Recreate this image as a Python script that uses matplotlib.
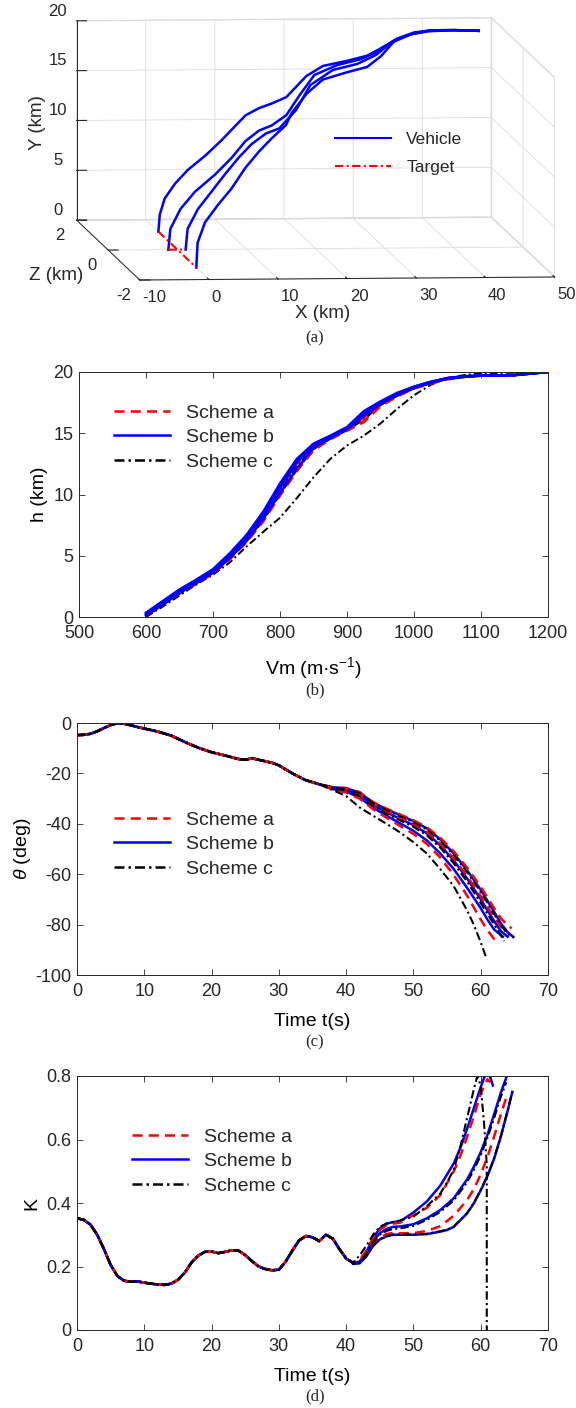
import numpy as np
import matplotlib
matplotlib.use('Agg')
import matplotlib.pyplot as plt
from matplotlib.lines import Line2D
from matplotlib.ticker import FormatStrFormatter

plt.rcParams['font.family'] = ['Liberation Sans', 'DejaVu Sans']
plt.rcParams['mathtext.fontset'] = 'custom'
plt.rcParams['mathtext.rm'] = 'Liberation Sans'
plt.rcParams['mathtext.it'] = 'Liberation Sans:italic'
plt.rcParams['axes.unicode_minus'] = False
plt.rcParams['text.color'] = '#262626'
plt.rcParams['axes.edgecolor'] = '#262626'
plt.rcParams['xtick.color'] = '#262626'
plt.rcParams['ytick.color'] = '#262626'
plt.rcParams['grid.color'] = '#d9d9d9'
plt.rcParams['grid.linewidth'] = 0.6

# ---------------- (a) 3D trajectories: X, Y(altitude), Z in km ----------------
trajA_x = [0.0, 0.2, 0.9, 2.4, 4.3, 6.8, 9.1, 11.2, 12.6, 14.5, 16.5, 18.5, 21.4, 23.8, 27.3, 30.2, 32.1, 34.6, 37.0, 39.5, 42.8, 46.8, 50.0]
trajA_y = [0.0, 1.7, 3.3, 4.8, 6.2, 7.6, 9.1, 10.6, 11.6, 12.3, 12.8, 13.4, 15.5, 16.5, 17.0, 17.5, 18.2, 19.2, 19.8, 20.0, 20.0, 19.9, 20.0]
trajA_z = [1.2, 1.2, 1.2, 1.2, 1.2, 1.2, 1.2, 1.2, 1.2, 1.2, 1.2, 1.2, 1.2, 1.2, 1.2, 1.2, 1.2, 1.2, 1.2, 1.2, 1.2, 1.2, 1.2]

trajB_x = [-1.3, -0.9, 0.8, 3.1, 6.3, 8.9, 11.1, 13.3, 15.3, 17.6, 19.7, 22.1, 25.5, 29.0, 31.7, 34.3, 36.8, 39.5, 42.8, 46.8, 50.0]
trajB_y = [0.0, 2.0, 3.85, 5.4, 7.0, 8.5, 10.0, 10.9, 11.3, 12.2, 14.0, 15.9, 16.8, 17.3, 18.0, 19.1, 19.7, 20.0, 20.0, 19.9, 20.0]
trajB_z = [0.0, 0.05, 0.15, 0.25, 0.35, 0.45, 0.55, 0.65, 0.72, 0.8, 0.9, 1.0, 1.05, 1.1, 1.15, 1.2, 1.2, 1.2, 1.2, 1.2, 1.2]

trajC_x = [1.2, 1.6, 3.3, 5.5, 7.7, 9.9, 12.0, 14.3, 16.4, 19.0, 21.3, 24.8, 28.4, 31.2, 33.8, 36.5, 39.5, 42.8, 46.8, 50.0]
trajC_y = [0.0, 2.0, 3.8, 5.4, 7.0, 8.5, 9.7, 10.6, 11.0, 12.7, 15.05, 16.4, 16.9, 17.7, 19.0, 19.6, 20.0, 20.0, 19.9, 20.0]
trajC_z = [0.0, 0.05, 0.15, 0.25, 0.35, 0.45, 0.55, 0.65, 0.72, 0.8, 0.9, 1.0, 1.05, 1.1, 1.15, 1.2, 1.2, 1.2, 1.2, 1.2]

trajD_x = [0.0, 0.3, 1.6, 3.8, 6.1, 8.6, 11.0, 13.2, 15.7, 16.8, 19.4, 22.2, 26.1, 29.4, 31.6, 33.7, 36.4, 39.0, 42.8, 46.8, 50.0]
trajD_y = [0.0, 2.4, 4.3, 5.8, 7.2, 9.0, 10.3, 11.4, 12.4, 13.5, 15.1, 16.2, 16.6, 16.9, 17.8, 19.1, 19.7, 19.9, 20.0, 19.9, 20.0]
trajD_z = [-1.2, -1.15, -1.05, -0.9, -0.75, -0.55, -0.35, -0.2, 0.0, 0.1, 0.3, 0.5, 0.7, 0.85, 0.95, 1.05, 1.15, 1.2, 1.2, 1.2, 1.2]

target1_x = [0.0, 0.0]
target1_z = [1.2, -1.2]
target2_x = [-1.3, 1.2]
target2_z = [0.0, 0.0]

# ---------------- (b) altitude vs velocity ----------------
vm_b = [600, 625, 650, 675, 700, 725, 750, 775, 800, 825, 850, 875, 900, 925, 950, 975, 1000, 1025, 1050, 1075, 1100, 1150, 1200]
h_a1 = [0.2, 1.1, 2.05, 2.85, 3.7, 4.9, 6.3, 8.1, 10.2, 12.0, 13.7, 14.6, 15.3, 16.0, 17.3, 18.1, 18.7, 19.1, 19.45, 19.6, 19.7, 19.75, 20.0]
h_a2 = [0.25, 1.2, 2.15, 2.95, 3.8, 5.05, 6.5, 8.35, 10.55, 12.5, 13.9, 14.65, 15.4, 16.3, 17.45, 18.2, 18.75, 19.15, 19.5, 19.65, 19.7, 19.75, 20.0]
h_a3 = [0.1, 1.0, 1.9, 2.7, 3.55, 4.7, 6.1, 7.8, 9.9, 11.9, 13.6, 14.5, 15.2, 15.9, 17.2, 18.0, 18.65, 19.05, 19.4, 19.6, 19.7, 19.75, 20.0]
h_b1 = [0.35, 1.3, 2.25, 3.05, 3.9, 5.2, 6.7, 8.6, 10.9, 12.9, 14.15, 14.8, 15.5, 16.8, 17.6, 18.3, 18.8, 19.2, 19.5, 19.65, 19.7, 19.75, 20.0]
h_b2 = [0.2, 1.15, 2.1, 2.9, 3.75, 5.0, 6.45, 8.3, 10.5, 12.6, 14.0, 14.7, 15.4, 16.6, 17.5, 18.2, 18.75, 19.15, 19.5, 19.65, 19.7, 19.75, 20.0]
h_b3 = [0.1, 1.0, 1.95, 2.75, 3.6, 4.8, 6.2, 8.0, 10.1, 12.1, 13.8, 14.6, 15.3, 16.4, 17.4, 18.1, 18.7, 19.1, 19.45, 19.6, 19.7, 19.75, 20.0]
h_b4 = [0.3, 1.25, 2.2, 3.0, 3.85, 5.1, 6.6, 8.45, 10.7, 12.7, 14.1, 14.75, 15.45, 16.7, 17.55, 18.25, 18.8, 19.2, 19.5, 19.65, 19.7, 19.75, 20.0]
h_c1 = [0.15, 1.05, 2.0, 2.8, 3.65, 4.85, 6.25, 8.05, 10.15, 12.2, 13.75, 14.6, 15.3, 16.2, 17.35, 18.1, 18.7, 19.1, 19.45, 19.6, 19.7, 19.75, 20.0]
h_c2 = [0.1, 0.95, 1.9, 2.7, 3.55, 4.75, 6.15, 7.9, 10.0, 12.0, 13.7, 14.55, 15.25, 16.1, 17.3, 18.05, 18.65, 19.1, 19.45, 19.6, 19.7, 19.75, 20.0]
h_c3 = [0.2, 1.1, 2.05, 2.85, 3.7, 4.9, 6.35, 8.2, 10.3, 12.3, 13.85, 14.6, 15.35, 16.3, 17.4, 18.15, 18.7, 19.1, 19.45, 19.6, 19.7, 19.75, 20.0]
h_c4 = [0.0, 0.85, 1.75, 2.65, 3.45, 4.45, 5.75, 6.95, 8.1, 9.7, 11.4, 12.9, 14.0, 14.8, 15.8, 17.0, 18.1, 18.95, 19.5, 19.75, 19.9, 19.95, 20.0]

# ---------------- (c) flight path angle vs time ----------------
t_c0 = [0, 1, 2, 3, 4, 5, 6, 7, 8, 9, 10, 12, 14, 16, 18, 20, 22, 24, 25, 26, 28, 29, 30, 32, 34, 36]
th_c0 = [-4.8, -4.7, -4.3, -3.3, -2.0, -0.8, -0.1, -0.3, -0.9, -1.6, -2.2, -3.4, -5.0, -7.5, -9.8, -11.6, -12.9, -14.3, -14.6, -14.0, -15.2, -15.8, -16.8, -20.0, -22.7, -24.3]
t_ca1 = [38, 40, 42, 44, 46, 48, 50, 52, 54, 56, 58, 60, 62, 63, 64, 64.6]
th_ca1 = [-25.5, -25.8, -27.4, -31.4, -34.0, -36.3, -38.6, -41.4, -45.6, -51.0, -57.5, -65.0, -73.5, -77.5, -80.3, -81.5]
t_ca2 = [38, 40, 42, 44, 46, 48, 50, 52, 54, 56, 58, 60, 61, 62, 62.5]
th_ca2 = [-26.4, -27.6, -30.0, -34.2, -37.6, -40.8, -44.0, -48.0, -53.4, -60.4, -68.6, -78.0, -82.2, -85.8, -87.4]
t_ca3 = [38, 40, 42, 44, 46, 48, 50, 52, 54, 56, 58, 60, 62, 63, 64]
th_ca3 = [-25.7, -26.3, -28.3, -32.2, -35.1, -37.6, -40.0, -43.2, -47.9, -53.8, -60.8, -68.8, -77.2, -80.8, -83.2]
t_cb1 = [38, 40, 42, 44, 46, 48, 50, 52, 54, 56, 58, 60, 62, 63, 64, 64.8]
th_cb1 = [-25.5, -25.9, -27.6, -31.6, -34.2, -36.6, -38.9, -41.8, -46.2, -51.8, -58.5, -66.2, -75.0, -79.5, -83.0, -84.8]
t_cb2 = [38, 40, 42, 44, 46, 48, 50, 52, 54, 56, 58, 60, 62, 63, 64]
th_cb2 = [-25.8, -26.5, -28.6, -32.5, -35.5, -38.0, -40.5, -43.8, -48.6, -54.6, -61.8, -70.0, -78.6, -82.6, -84.8]
t_cb3 = [38, 40, 42, 44, 46, 48, 50, 52, 54, 56, 58, 60, 61, 62, 63.3]
th_cb3 = [-26.2, -27.2, -29.6, -33.6, -36.8, -39.8, -42.8, -46.6, -51.8, -58.0, -65.5, -73.5, -78.0, -82.0, -84.8]
t_cc1 = [38, 40, 42, 44, 46, 48, 50, 52, 54, 56, 58, 60, 62, 63, 64, 65]
th_cc1 = [-25.6, -26.1, -27.8, -31.8, -34.5, -37.0, -39.3, -42.3, -46.8, -52.5, -59.2, -67.0, -75.8, -80.2, -83.8, -85.2]
t_cc2 = [38, 40, 42, 44, 46, 48, 50, 52, 54, 56, 58, 60, 62, 63, 63.5]
th_cc2 = [-26.0, -26.8, -29.0, -33.0, -36.0, -38.6, -41.2, -44.6, -49.5, -55.7, -63.0, -71.5, -80.0, -84.2, -86.5]
t_cc3 = [38, 40, 42, 44, 46, 48, 50, 52, 54, 56, 58, 59, 60, 60.8]
th_cc3 = [-26.6, -29.0, -33.5, -36.8, -40.0, -43.4, -47.3, -51.8, -58.0, -64.8, -74.5, -80.2, -87.0, -93.0]

# ---------------- (d) K vs time ----------------
t_d0 = [0, 1, 2, 3, 4, 5, 6, 7, 8, 9, 10, 11, 12, 13, 14, 15, 16, 17, 18, 19, 20, 21, 22, 23, 24, 25, 26, 27, 28, 29, 30, 31, 32, 33, 34, 35, 36, 37, 38, 39, 40, 41]
k_d0 = [0.352, 0.347, 0.332, 0.300, 0.255, 0.205, 0.170, 0.155, 0.152, 0.153, 0.149, 0.146, 0.143, 0.142, 0.146, 0.158, 0.180, 0.212, 0.234, 0.246, 0.247, 0.242, 0.246, 0.251, 0.250, 0.236, 0.217, 0.200, 0.192, 0.188, 0.190, 0.215, 0.250, 0.282, 0.296, 0.292, 0.280, 0.300, 0.288, 0.255, 0.225, 0.212]
t_da1 = [41, 42, 43, 44, 45, 46, 47, 48, 50, 52, 54, 56, 57, 58, 59, 60, 61, 61.4]
k_da1 = [0.212, 0.220, 0.250, 0.290, 0.315, 0.330, 0.335, 0.338, 0.362, 0.385, 0.425, 0.500, 0.550, 0.610, 0.675, 0.745, 0.790, 0.780]
t_da2 = [41, 42, 43, 44, 45, 46, 47, 48, 50, 52, 54, 56, 58, 59, 60, 61, 62, 63, 64]
k_da2 = [0.212, 0.216, 0.238, 0.272, 0.292, 0.302, 0.306, 0.305, 0.305, 0.312, 0.327, 0.360, 0.410, 0.445, 0.490, 0.545, 0.610, 0.680, 0.745]
t_db1 = [41, 42, 43, 44, 45, 46, 47, 48, 50, 52, 54, 56, 57, 58, 59, 60, 60.6, 61.3, 61.8]
k_db1 = [0.212, 0.215, 0.245, 0.290, 0.320, 0.335, 0.340, 0.342, 0.370, 0.405, 0.455, 0.525, 0.575, 0.635, 0.700, 0.765, 0.800, 0.805, 0.770]
t_db2 = [41, 42, 43, 44, 45, 46, 47, 48, 50, 52, 54, 56, 58, 59, 60, 61, 62, 63, 63.8]
k_db2 = [0.210, 0.212, 0.238, 0.280, 0.305, 0.318, 0.325, 0.326, 0.333, 0.352, 0.378, 0.415, 0.475, 0.515, 0.560, 0.615, 0.680, 0.748, 0.795]
t_db3 = [41, 42, 43, 44, 45, 46, 47, 48, 50, 52, 54, 55, 56, 58, 59, 60, 61, 62, 63, 64, 64.7]
k_db3 = [0.208, 0.210, 0.232, 0.265, 0.285, 0.295, 0.300, 0.300, 0.300, 0.302, 0.310, 0.315, 0.325, 0.368, 0.400, 0.440, 0.485, 0.540, 0.610, 0.690, 0.750]
t_dc1 = [41, 42, 43, 44, 45, 46, 48, 50, 52, 54, 55, 56, 57, 58, 59, 59.5, 60, 60.5, 60.9, 60.9]
k_dc1 = [0.212, 0.235, 0.265, 0.300, 0.325, 0.335, 0.345, 0.357, 0.390, 0.430, 0.465, 0.505, 0.580, 0.670, 0.760, 0.800, 0.770, 0.650, 0.520, 0.0]
t_dc2 = [41, 42, 43, 44, 45, 46, 47, 48, 50, 52, 54, 56, 58, 59, 60, 61, 62, 63, 63.8]
k_dc2 = [0.212, 0.214, 0.240, 0.278, 0.300, 0.312, 0.318, 0.320, 0.328, 0.347, 0.372, 0.408, 0.466, 0.505, 0.550, 0.605, 0.668, 0.735, 0.780]
t_dc3 = [41, 42, 43, 44, 45, 46, 47, 48, 50, 52, 54, 55, 56, 58, 59, 60, 61, 62, 63, 64, 64.7]
k_dc3 = [0.209, 0.211, 0.233, 0.266, 0.286, 0.296, 0.301, 0.301, 0.301, 0.303, 0.311, 0.316, 0.326, 0.369, 0.401, 0.441, 0.486, 0.541, 0.611, 0.691, 0.751]

RED = '#ff0000'
BLUE = '#0000ff'
BLACK = '#000000'
LS_A = (0, (4, 2.5))
LS_C = (0, (4, 1.6, 1, 1.6))
LW = 1.8
TXT = '#262626'

fig = plt.figure(figsize=(5.76, 14.08), dpi=100)


def px_rect(left, top, right, bottom):
    return [left / 576, 1 - bottom / 1408, (right - left) / 576, (bottom - top) / 1408]


def fig_xy(x, y):
    return x / 576, 1 - y / 1408


def style2d(ax):
    ax.tick_params(direction='in', top=True, right=True, length=4, width=0.6, labelsize=13)
    ax.tick_params(axis='x', pad=6)
    ax.tick_params(axis='y', pad=4)
    for s in ax.spines.values():
        s.set_linewidth(0.7)


def scheme_legend(ax, x, y):
    handles = [Line2D([], [], color=RED, lw=LW, linestyle=LS_A),
               Line2D([], [], color=BLUE, lw=LW),
               Line2D([], [], color=BLACK, lw=LW, linestyle=LS_C)]
    ax.legend(handles, ['Scheme a', 'Scheme b', 'Scheme c'], loc='upper left',
              bbox_to_anchor=fig_xy(x, y), bbox_transform=fig.transFigure,
              frameon=False, fontsize=14, handlelength=2.9, handletextpad=0.8,
              labelspacing=0.36, borderpad=0, borderaxespad=0)


# ---------------- (a) ----------------
ax3 = fig.add_axes([0.02, 0.771, 1.04, 0.24], projection='3d')
ax3.set_proj_type('ortho')
ax3.view_init(elev=4.75, azim=-95)
ax3.set_box_aspect((410, 714, 197), zoom=2.47)
for axis in (ax3.xaxis, ax3.yaxis, ax3.zaxis):
    axis.pane.set_facecolor((1, 1, 1, 0))
    axis.pane.set_edgecolor('#c8c8c8')
    axis._axinfo['grid']['color'] = '#dcdcdc'
    axis._axinfo['grid']['linewidth'] = 0.6
    axis._axinfo['tick']['inward_factor'] = 0.0
    axis._axinfo['tick']['outward_factor'] = 0.3
    axis.line.set_color('#262626')
    axis.line.set_linewidth(0.7)

for xs, ys, zs in ((trajA_x, trajA_y, trajA_z), (trajB_x, trajB_y, trajB_z),
                   (trajC_x, trajC_y, trajC_z), (trajD_x, trajD_y, trajD_z)):
    ax3.plot(xs, zs, ys, color=BLUE, lw=1.8)
ax3.plot(target1_x, target1_z, [0, 0], color=RED, lw=1.5, linestyle=LS_C)
ax3.plot(target2_x, target2_z, [0, 0], color=RED, lw=1.5, linestyle=LS_C)
ax3.set_xlim(-10, 50)
ax3.set_ylim(-2, 2)
ax3.set_zlim(0, 20)
ax3.set_xticks([-10, 0, 10, 20, 30, 40, 50])
ax3.set_yticks([-2, 0, 2])
ax3.set_zticks([0, 5, 10, 15, 20])
ax3.tick_params(labelsize=12, colors=TXT)
ax3.xaxis.set_tick_params(pad=-3)
ax3.yaxis.set_tick_params(pad=-3)
ax3.zaxis.set_tick_params(pad=-3)
for tk in ax3.xaxis.get_major_ticks():
    tk.label1.set_horizontalalignment('left')
for tk in ax3.zaxis.get_major_ticks():
    tk.label1.set_verticalalignment('bottom')
# axis titles placed where the reference has them
fig.text(*fig_xy(323, 313), 'X (km)', ha='center', va='center', fontsize=13.5)
fig.text(*fig_xy(56, 275), 'Z (km)', ha='center', va='center', fontsize=13.5)
fig.text(*fig_xy(37, 123), 'Y (km)', ha='center', va='center', fontsize=13.5, rotation=90)
h3 = [Line2D([], [], color=BLUE, lw=1.5), Line2D([], [], color=RED, lw=1.5, linestyle=LS_C)]
ax3.legend(h3, ['Vehicle', 'Target'], loc='upper left', bbox_to_anchor=fig_xy(335, 132),
           bbox_transform=fig.transFigure, frameon=False, fontsize=12.5, handlelength=3.2,
           handletextpad=0.9, labelspacing=0.75, borderpad=0, borderaxespad=0)
fig.text(*fig_xy(315, 338), '(a)', ha='center', va='center', family='Liberation Serif', fontsize=12)

# ---------------- (b) ----------------
axb = fig.add_axes(px_rect(79, 372, 548, 617))
for hh in (h_c1, h_c2, h_c3, h_c4):
    axb.plot(vm_b, hh, color=BLACK, lw=1.4, linestyle=LS_C)
for hh in (h_a1, h_a2, h_a3):
    axb.plot(vm_b, hh, color=RED, lw=LW, linestyle=LS_A)
for hh in (h_b1, h_b2, h_b3, h_b4):
    axb.plot(vm_b, hh, color=BLUE, lw=LW)
axb.set_xlim(500, 1200)
axb.set_ylim(0, 20)
axb.set_xticks(range(500, 1201, 100))
axb.set_yticks([0, 5, 10, 15, 20])
style2d(axb)
axb.set_xlabel('Vm (m·s$^{-1}$)', fontsize=14, labelpad=9)
axb.set_ylabel('h (km)', fontsize=14, labelpad=4)
scheme_legend(axb, 114, 404)
fig.text(*fig_xy(315, 690), '(b)', ha='center', va='center', family='Liberation Serif', fontsize=12)

# ---------------- (c) ----------------
axc = fig.add_axes(px_rect(77, 723, 548, 975))
for tt, yy in ((t_cb1, th_cb1), (t_cb2, th_cb2), (t_cb3, th_cb3)):
    axc.plot(t_c0 + tt, th_c0 + yy, color=BLUE, lw=LW)
for tt, yy in ((t_ca1, th_ca1), (t_ca2, th_ca2), (t_ca3, th_ca3)):
    axc.plot(t_c0 + tt, th_c0 + yy, color=RED, lw=LW, linestyle=LS_A)
for tt, yy in ((t_cc1, th_cc1), (t_cc2, th_cc2), (t_cc3, th_cc3)):
    axc.plot(t_c0 + tt, th_c0 + yy, color=BLACK, lw=1.5, linestyle=LS_C)
axc.set_xlim(0, 70)
axc.set_ylim(-100, 0)
axc.set_xticks(range(0, 71, 10))
axc.set_yticks(range(-100, 1, 20))
style2d(axc)
axc.set_xlabel('Time t(s)', fontsize=14, labelpad=9)
axc.set_ylabel(r'$\theta$ (deg)', fontsize=14, labelpad=2)
scheme_legend(axc, 114, 811)
fig.text(*fig_xy(315, 1042), '(c)', ha='center', va='center', family='Liberation Serif', fontsize=12)

# ---------------- (d) ----------------
axd = fig.add_axes(px_rect(77, 1076, 548, 1330))
for tt, yy in ((t_db1, k_db1), (t_db2, k_db2), (t_db3, k_db3)):
    axd.plot(t_d0 + tt, k_d0 + yy, color=BLUE, lw=LW)
for tt, yy in ((t_da1, k_da1), (t_da2, k_da2)):
    axd.plot(t_d0 + tt, k_d0 + yy, color=RED, lw=LW, linestyle=LS_A)
for tt, yy in ((t_dc1, k_dc1), (t_dc2, k_dc2), (t_dc3, k_dc3)):
    axd.plot(t_d0 + tt, k_d0 + yy, color=BLACK, lw=1.5, linestyle=LS_C)
axd.set_xlim(0, 70)
axd.set_ylim(0, 0.8)
axd.set_xticks(range(0, 71, 10))
axd.set_yticks([0, 0.2, 0.4, 0.6, 0.8])
axd.yaxis.set_major_formatter(FormatStrFormatter('%g'))
style2d(axd)
axd.set_xlabel('Time t(s)', fontsize=14, labelpad=9)
axd.set_ylabel('K', fontsize=14, labelpad=4)
scheme_legend(axd, 132, 1128)
fig.text(*fig_xy(315, 1396), '(d)', ha='center', va='center', family='Liberation Serif', fontsize=12)

fig.savefig('out.png', dpi=100)
